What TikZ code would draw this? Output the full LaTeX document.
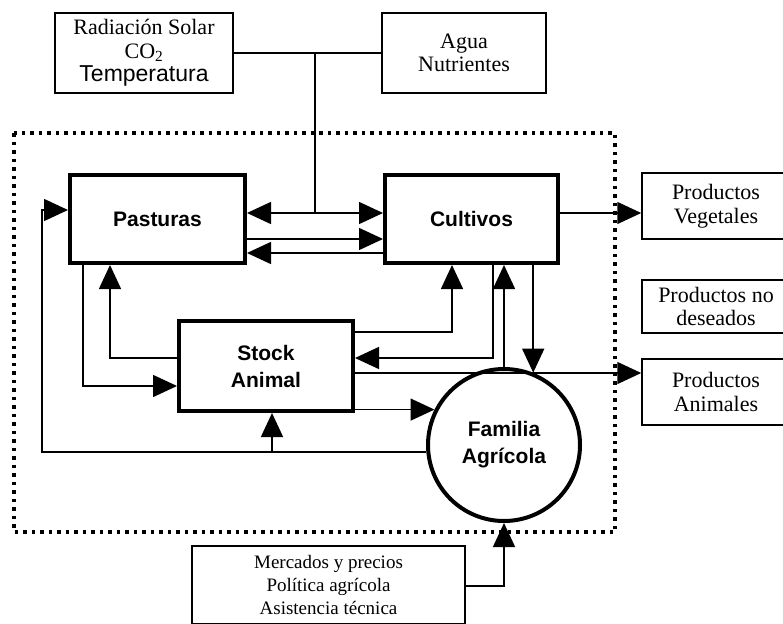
\documentclass[tikz,border=0pt]{standalone}
\usepackage{fontspec}
\setmainfont{Liberation Serif}
\setsansfont{Liberation Sans}
\usetikzlibrary{arrows.meta,calc}
\begin{document}
\begin{tikzpicture}[x=1pt,y=-1pt,
  thinbox/.style={draw, line width=1.5pt, inner sep=0pt, align=center, font=\fontsize{22}{23.5}\selectfont},
  thickbox/.style={draw, line width=4pt, inner sep=0pt, align=center, font=\sffamily\bfseries\fontsize{21}{27}\selectfont},
  conn/.style={line width=1.5pt},
  arr/.style={conn, -{Triangle[length=24pt,width=22pt]}},
  darr/.style={conn, {Triangle[length=24pt,width=22pt]}-{Triangle[length=24pt,width=22pt]}},
  dotbox/.style={line width=3.5pt, dash pattern=on 3.5pt off 5pt}
  ]
\useasboundingbox (0,0) rectangle (783,623);
\fill[white] (0,0) rectangle (783,623);

\draw[dotbox] (14,133) rectangle (615,532);

\node[thinbox, minimum width=178pt, minimum height=80pt] (rad) at (144,53)
  {Radiación Solar\\CO\textsubscript{2}\\{\sffamily\fontsize{23}{23.5}\selectfont Temperatura}};
\node[thinbox, minimum width=164pt, minimum height=80pt] (agua) at (464,53) {Agua\\Nutrientes};

\node[thickbox, minimum width=175pt, minimum height=88pt] (past) at (157.5,219) {Pasturas};
\node[thickbox, minimum width=173pt, minimum height=88pt] (cult) at (471.5,219) {Cultivos};
\node[thickbox, minimum width=174pt, minimum height=90pt] (stock) at (266,366) {Stock\\Animal};
\node[thickbox, circle, minimum size=152pt] (fam) at (504,445) {Familia\\Agrícola};

\node[thinbox, minimum width=148pt, minimum height=66pt] (pveg) at (716,206) {Productos\\Vegetales};
\node[thinbox, minimum width=148pt, minimum height=53pt] (pno) at (716,306.5) {Productos no\\deseados};
\node[thinbox, minimum width=148pt, minimum height=66pt] (pani) at (716,392) {Productos\\Animales};

\node[thinbox, minimum width=273pt, minimum height=78pt, font=\fontsize{19}{23}\selectfont] (merc) at (328.5,585)
  {Mercados y precios\\Política agrícola\\Asistencia técnica};

\coordinate (j) at (315,53);
\coordinate (k) at (315,213);
\coordinate (xl) at (42,0);

\draw[conn] (rad.east) -- (agua.west);
\draw[conn] (j) -- (k);
\draw[darr] (past.east |- k) -- (cult.west |- k);
\draw[arr] (past.east |- 0,239) -- (cult.west |- 0,239);
\draw[arr] (cult.west |- 0,253) -- (past.east |- 0,253);
\draw[arr] (cult.east |- k) -- (pveg.west |- k);

\draw[arr] (fam.185) -- (fam.185 -| xl) |- (past.west |- 0,210);
\draw[arr] (fam.185 -| 272,0) -- (stock.south -| 272,0);

\draw[arr] (past.south -| 83,0) |- (stock.west |- 0,386);
\draw[arr] (stock.west |- 0,358) -| (past.south -| 110,0);

\draw[arr] (stock.east |- 0,332) -| (cult.south -| 452,0);
\draw[arr] (cult.south -| 493,0) |- (stock.east |- 0,358);
\draw[arr] (fam.north) -- (cult.south -| fam.north);
\draw[arr] (fam.68 |- cult.south) -- (fam.68);

\draw[arr] (stock.east |- 0,373) -- (pani.west |- 0,373);
\draw[arr] (stock.east |- fam.153) -- (fam.153);

\draw[arr] (merc.east |- 0,586) -| (fam.south);
\end{tikzpicture}
\end{document}
